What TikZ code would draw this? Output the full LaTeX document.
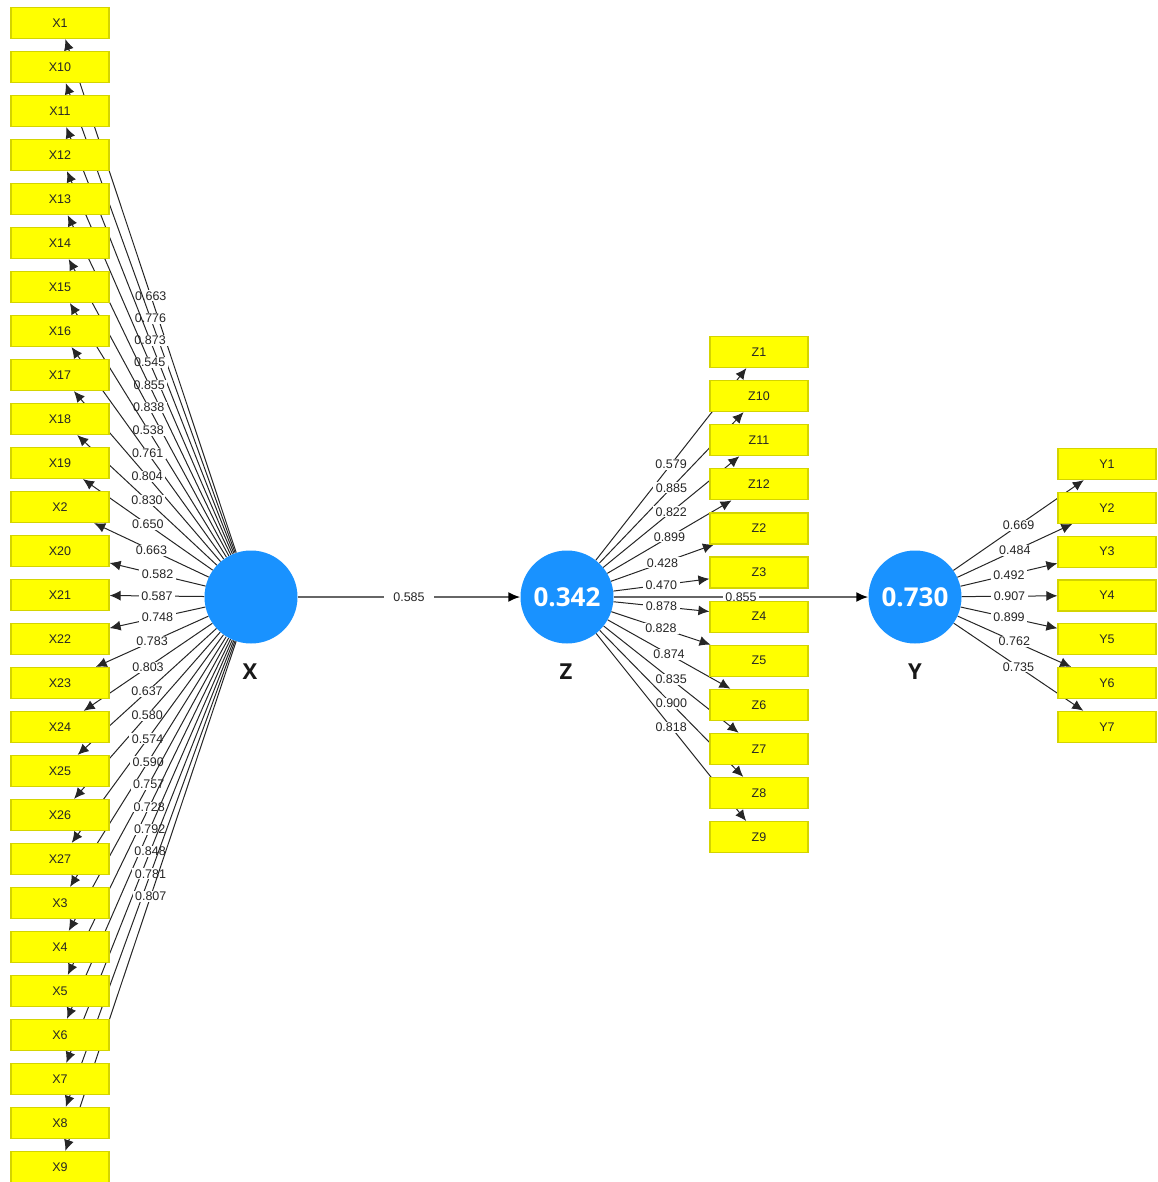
\documentclass[tikz,border=0pt]{standalone}
\usepackage{fontspec}
\setmainfont{Liberation Sans}
\newfontfamily\latfont{Open Sans}
\usetikzlibrary{arrows.meta}
\pgfdeclarelayer{bg}
\pgfsetlayers{bg,main}
\definecolor{lvblue}{RGB}{25,146,255}
\definecolor{boxyellow}{RGB}{255,255,0}
\definecolor{boxborder}{RGB}{212,212,0}
\begin{document}
\begin{tikzpicture}[x=1pt,y=-1pt,
  ind/.style={draw=boxborder, fill=boxyellow, line width=1.2pt, minimum width=98pt, minimum height=31pt, inner sep=0pt, font=\fontsize{12.5}{12.5}\selectfont, text=black!85},
  lv/.style={circle, fill=lvblue, minimum size=93pt, inner sep=0pt, text=white, font=\latfont\bfseries\fontsize{26}{26}\selectfont},
  lvname/.style={font=\latfont\bfseries\fontsize{22}{22}\selectfont, text=black!90},
  load/.style={draw=black!85, line width=1pt, -{Latex[length=11pt,width=10pt]}},
  structpath/.style={draw=black!60, line width=2pt, -{Latex[length=12pt,width=10pt,color=black]}},
  lbl/.style={fill=white, inner xsep=2.5pt, inner ysep=1pt, font=\fontsize{12.5}{12.5}\selectfont, text=black!85},
  slbl/.style={lbl, inner xsep=9pt}
]
\useasboundingbox (0,0) rectangle (1157,1182);

% latent variables
\node[lv] (X) at (251,597) {};
\node[lv] (Z) at (567,597) {0.342};
\node[lv] (Y) at (915,597) {0.730};
\node[lvname] (Xn) at (250,672) {X};
\node[lvname] (Zn) at (566,672) {Z};
\node[lvname] (Yn) at (915,672) {Y};

% indicators X
\foreach \n/\v [count=\i from 0] in {X1/0.663,X10/0.776,X11/0.873,X12/0.545,X13/0.855,X14/0.838,X15/0.538,X16/0.761,X17/0.804,X18/0.830,X19/0.650,X2/0.663,X20/0.582,X21/0.587,X22/0.748,X23/0.783,X24/0.803,X25/0.637,X26/0.580,X27/0.574,X3/0.590,X4/0.757,X5/0.728,X6/0.792,X7/0.848,X8/0.781,X9/0.807}{
  \node[ind] (\n) at (60,{23+44*\i}) {\n};
  \begin{pgfonlayer}{bg}
    \draw[load] (X) -- (\n) node[midway,lbl] {\v};
  \end{pgfonlayer}
}

% indicators Z
\foreach \n/\v [count=\i from 0] in {Z1/0.579,Z10/0.885,Z11/0.822,Z12/0.899,Z2/0.428,Z3/0.470,Z4/0.878,Z5/0.828,Z6/0.874,Z7/0.835,Z8/0.900,Z9/0.818}{
  \node[ind] (\n) at (759,{352+44.1*\i}) {\n};
  \begin{pgfonlayer}{bg}
    \draw[load] (Z) -- (\n) node[midway,lbl] {\v};
  \end{pgfonlayer}
}

% indicators Y
\foreach \n/\v [count=\i from 0] in {Y1/0.669,Y2/0.484,Y3/0.492,Y4/0.907,Y5/0.899,Y6/0.762,Y7/0.735}{
  \node[ind] (\n) at (1107,{464+43.8*\i}) {\n};
  \begin{pgfonlayer}{bg}
    \draw[load] (Y) -- (\n) node[midway,lbl] {\v};
  \end{pgfonlayer}
}

% structural paths
\begin{pgfonlayer}{bg}
  \draw[structpath] (X) -- (Z) node[midway,slbl] {0.585};
  \draw[structpath] (Z) -- (Y) node[midway,lbl] {0.855};
\end{pgfonlayer}
\end{tikzpicture}
\end{document}
